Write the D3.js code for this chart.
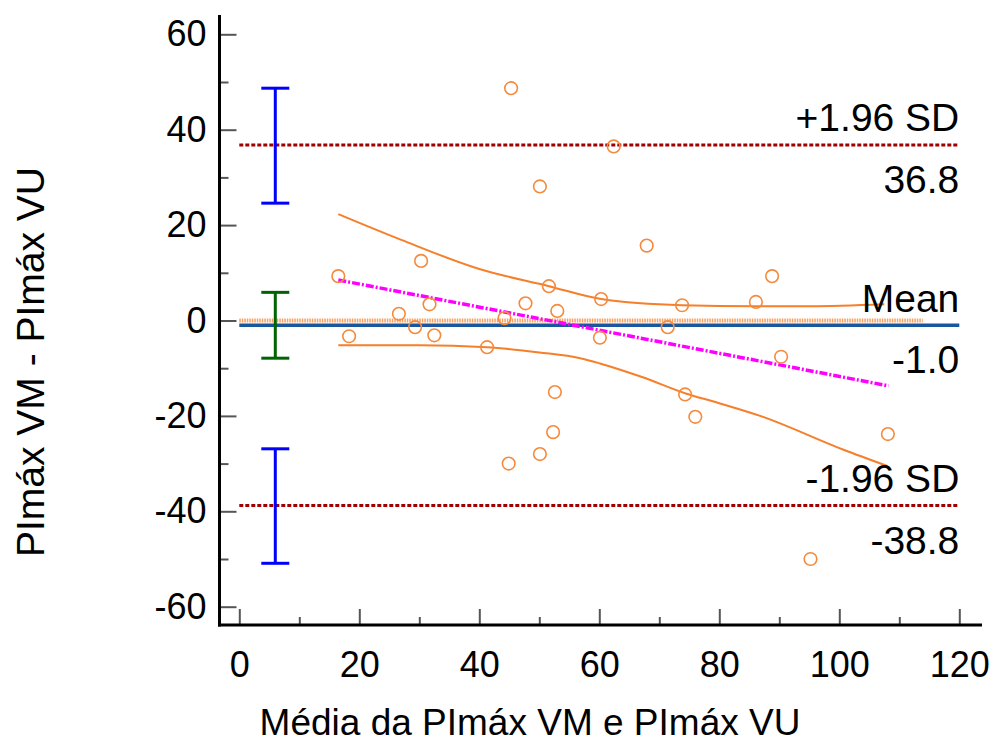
<!DOCTYPE html>
<html>
<head>
<meta charset="utf-8">
<script src="https://cdn.jsdelivr.net/npm/d3@7"></script>
<style>
  body { margin: 0; background: #fff; }
  svg { display: block; font-family: "Liberation Sans", Arial, sans-serif; }
</style>
</head>
<body>
<svg id="chart"></svg>
<script>
// Data
let meanVals = [16.5, 18.3, 26.6, 29.3, 30.3, 31.7, 32.5, 41.3, 44.2, 47.7, 51.6, 53.0,
                67.9, 88.8, 60.3, 73.8, 86.1, 71.4, 60.1, 90.3,
                52.6, 52.3, 50.1, 44.9, 74.3, 76.0,
                45.3, 50.1, 62.4, 95.2, 108.1];
let diffVals = [9.3, -3.3, 1.4, -1.4, 12.5, 3.4, -3.1, -5.6, 0.5, 3.6, 7.2, 2.0,
                15.7, 9.3, 4.5, 3.2, 3.9, -1.4, -3.6, -7.6,
                -15.0, -23.4, -28.0, -30.0, -15.5, -20.2,
                48.7, 28.1, 36.5, -50.0, -23.8];

// Reference lines
let meanDiff = -1.0, upperLoA = 36.8, lowerLoA = -38.8;
let zeroLineEnd = 113.9;

// Regression line and its confidence curves
let regX = [16.5, 108.2], regY = [8.5, -13.7];
let ciUpX = [16.5, 27, 40, 51.6, 60.3, 73.8, 86.1, 95.1, 107.5];
let ciUpY = [22.3, 16.9, 10.8, 7.2, 4.5, 3.2, 3.0, 3.0, 3.4];
let ciLoX = [16.5, 30, 41.3, 50, 56.8, 60.1, 67, 74.4, 79.6, 86.8, 100.7, 108];
let ciLoY = [-5.2, -5.2, -5.6, -6.7, -7.9, -9.0, -11.8, -15.3, -17.2, -20.0, -27.1, -30.5];

// Confidence intervals drawn as error bars at x = 6
let barX = 6;
let barLow = [24.6, -7.9, -50.9];
let barHigh = [48.7, 5.9, -26.9];
let barColor = ['#0000ff', '#006400', '#0000ff'];

// Ticks
let xTicks = [0, 20, 40, 60, 80, 100, 120];
let xMinor = [10, 30, 50, 70, 90, 110];
let yTicks = [-60, -40, -20, 0, 20, 40, 60];
let yMinor = [-50, -30, -10, 10, 30, 50];

let width = 996, height = 742;
let svg = d3.select('#chart').attr('width', width).attr('height', height);

let x = d3.scaleLinear().domain([0, 120]).range([239.3, 959.3]);
let y = d3.scaleLinear().domain([-60, 60]).range([606.7, 34.3]);

let axisX = 219.5, axisY = 625;

// Minor ticks
svg.append('g')
  .attr('transform', `translate(${axisX},0)`)
  .call(d3.axisLeft(y).tickValues(yMinor).tickSize(-9).tickFormat(''))
  .call(g => g.select('.domain').remove())
  .selectAll('line').attr('stroke', '#555').attr('stroke-width', 2);

svg.append('g')
  .attr('transform', `translate(0,${axisY})`)
  .call(d3.axisBottom(x).tickValues(xMinor).tickSize(-8).tickFormat(''))
  .call(g => g.select('.domain').remove())
  .selectAll('line').attr('stroke', '#555').attr('stroke-width', 2);

// Major ticks with labels (plain hyphen for negatives, like the original)
let yAxis = svg.append('g')
  .attr('transform', `translate(${axisX},0)`)
  .call(d3.axisLeft(y).tickValues(yTicks).tickSize(-17).tickPadding(13).tickFormat(d => String(d)));
yAxis.select('.domain').remove();
yAxis.selectAll('line').attr('stroke', '#555').attr('stroke-width', 2);
yAxis.selectAll('text').attr('font-size', 36).attr('fill', '#000')
  .style('font-family', '"Liberation Sans", Arial, sans-serif');

let xAxis = svg.append('g')
  .attr('transform', `translate(0,${axisY})`)
  .call(d3.axisBottom(x).tickValues(xTicks).tickSize(-16).tickPadding(26).tickFormat(d => String(d)));
xAxis.select('.domain').remove();
xAxis.selectAll('line').attr('stroke', '#555').attr('stroke-width', 2);
xAxis.selectAll('text').attr('font-size', 36).attr('fill', '#000')
  .style('font-family', '"Liberation Sans", Arial, sans-serif');

// Axis lines
svg.append('line').attr('x1', axisX).attr('x2', axisX).attr('y1', 15).attr('y2', axisY + 1.5)
  .attr('stroke', '#000').attr('stroke-width', 3);
svg.append('line').attr('x1', axisX - 1.5).attr('x2', 982).attr('y1', axisY).attr('y2', axisY)
  .attr('stroke', '#000').attr('stroke-width', 3);

// Zero line
svg.append('line')
  .attr('x1', x(0)).attr('x2', x(zeroLineEnd)).attr('y1', y(0)).attr('y2', y(0))
  .attr('stroke', '#f6a062').attr('stroke-width', 4).attr('stroke-dasharray', '1.5,1');

// Mean line
svg.append('line')
  .attr('x1', x(0)).attr('x2', x(120)).attr('y1', y(meanDiff)).attr('y2', y(meanDiff))
  .attr('stroke', '#1a55a0').attr('stroke-width', 3.5);

// Limits of agreement
[upperLoA, lowerLoA].forEach(v => {
  svg.append('line')
    .attr('x1', x(0)).attr('x2', x(120)).attr('y1', y(v)).attr('y2', y(v))
    .attr('stroke', '#a00000').attr('stroke-width', 3).attr('stroke-dasharray', '4,2');
});

// Error bars
barLow.forEach((lo, i) => {
  let g = svg.append('g').attr('stroke', barColor[i]).attr('stroke-width', 3);
  let cx = x(barX);
  g.append('line').attr('x1', cx).attr('x2', cx).attr('y1', y(barHigh[i])).attr('y2', y(lo));
  g.append('line').attr('x1', cx - 14).attr('x2', cx + 14).attr('y1', y(barHigh[i])).attr('y2', y(barHigh[i]));
  g.append('line').attr('x1', cx - 14).attr('x2', cx + 14).attr('y1', y(lo)).attr('y2', y(lo));
});

// Confidence curves
let curveLine = d3.line().x(d => x(d[0])).y(d => y(d[1])).curve(d3.curveMonotoneX);
svg.append('path').datum(d3.zip(ciUpX, ciUpY)).attr('d', curveLine)
  .attr('fill', 'none').attr('stroke', '#f57f2a').attr('stroke-width', 2);
svg.append('path').datum(d3.zip(ciLoX, ciLoY)).attr('d', curveLine)
  .attr('fill', 'none').attr('stroke', '#f57f2a').attr('stroke-width', 2);

// Regression line
svg.append('path').datum(d3.zip(regX, regY)).attr('d', d3.line().x(d => x(d[0])).y(d => y(d[1])))
  .attr('fill', 'none').attr('stroke', '#ff00ff').attr('stroke-width', 3.5)
  .attr('stroke-dasharray', '8,2,2,2');

// Points
svg.selectAll('circle.pt')
  .data(d3.zip(meanVals, diffVals))
  .enter()
  .append('circle')
  .attr('class', 'pt')
  .attr('cx', d => x(d[0]))
  .attr('cy', d => y(d[1]))
  .attr('r', 6.3)
  .attr('fill', 'none')
  .attr('stroke', '#f58a3c')
  .attr('stroke-width', 1.6);

// Line labels
let labels = [
  { text: '+1.96 SD', v: upperLoA, dy: -14 },
  { text: '36.8', v: upperLoA, dy: 48 },
  { text: 'Mean', v: meanDiff, dy: -13 },
  { text: '-1.0', v: meanDiff, dy: 48 },
  { text: '-1.96 SD', v: lowerLoA, dy: -14 },
  { text: '-38.8', v: lowerLoA, dy: 48 }
];
svg.selectAll('text.lbl')
  .data(labels)
  .enter()
  .append('text')
  .attr('class', 'lbl')
  .attr('x', x(120))
  .attr('y', d => y(d.v) + d.dy)
  .attr('text-anchor', 'end')
  .attr('font-size', 39)
  .attr('fill', '#000')
  .text(d => d.text);

// Axis titles
svg.append('text')
  .attr('x', 530).attr('y', 735)
  .attr('text-anchor', 'middle')
  .attr('font-size', 37)
  .text('Média da PImáx VM e PImáx VU');

svg.append('text')
  .attr('transform', 'translate(44,362) rotate(-90)')
  .attr('text-anchor', 'middle')
  .attr('font-size', 39)
  .text('PImáx VM - PImáx VU');
</script>
</body>
</html>
